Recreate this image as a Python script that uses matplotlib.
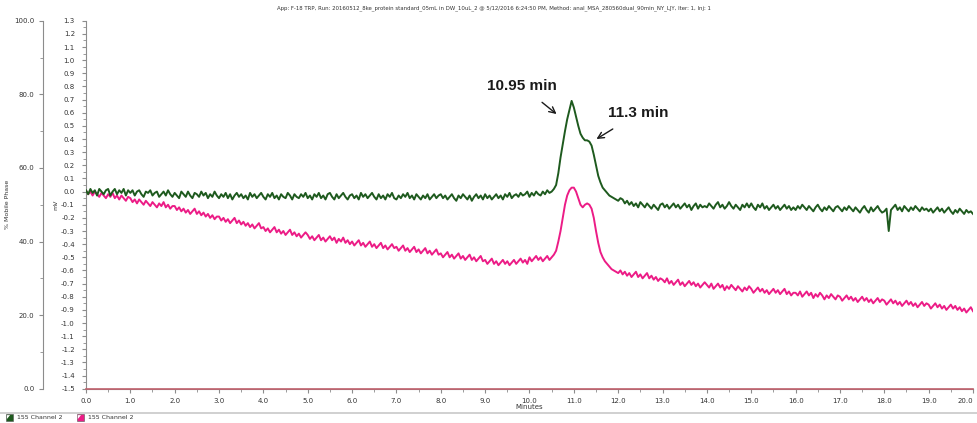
import numpy as np
import matplotlib.pyplot as plt
from matplotlib.ticker import MultipleLocator, FormatStrFormatter
from matplotlib.patches import Polygon, Rectangle
from matplotlib.lines import Line2D

# sampling grid of the traces, minutes (0.00 .. 20.00, step 0.05)
minutes = np.round(np.arange(401) * 0.05, 2)

# dark green trace, mV (one row per minute)
green_mv = [
    0.01, -0.02, 0.02, -0.01, 0.01, -0.03, 0.02, 0.00, -0.02, 0.01, 0.02, -0.03, 0.00, 0.02, -0.02, 0.01, -0.01, 0.02, -0.03, 0.01,
    -0.01, 0.01, -0.03, 0.00, 0.01, -0.02, -0.04, 0.00, -0.01, 0.01, -0.03, -0.01, 0.00, -0.04, -0.02, 0.00, -0.03, 0.01, -0.02, -0.04,
    -0.01, -0.03, -0.05, 0.00, -0.02, -0.04, 0.00, -0.03, -0.05, -0.01, -0.02, -0.04, 0.00, -0.03, -0.01, -0.05, -0.02, -0.04, 0.00, -0.03,
    -0.05, -0.02, -0.04, -0.01, -0.05, -0.02, -0.06, -0.03, -0.01, -0.04, -0.02, -0.05, -0.03, -0.06, -0.01, -0.04, -0.02, -0.05, -0.03, -0.01,
    -0.04, -0.06, -0.02, -0.04, -0.01, -0.05, -0.03, -0.06, -0.02, -0.04, -0.05, -0.01, -0.03, -0.06, -0.02, -0.04, -0.05, -0.02, -0.04, -0.01,
    -0.05, -0.03, -0.06, -0.02, -0.04, -0.01, -0.05, -0.03, -0.06, -0.02, -0.01, -0.04, -0.06, -0.02, -0.05, -0.03, -0.01, -0.04, -0.06, -0.03,
    -0.02, -0.05, -0.03, -0.06, -0.01, -0.04, -0.02, -0.05, -0.03, -0.01, -0.04, -0.06, -0.02, -0.05, -0.03, -0.06, -0.02, -0.04, -0.01, -0.05,
    -0.06, -0.03, -0.05, -0.02, -0.04, -0.01, -0.05, -0.03, -0.06, -0.02, -0.04, -0.06, -0.03, -0.05, -0.02, -0.06, -0.04, -0.02, -0.05, -0.03,
    -0.02, -0.05, -0.03, -0.06, -0.04, -0.02, -0.05, -0.07, -0.03, -0.05, -0.02, -0.04, -0.06, -0.03, -0.07, -0.04, -0.02, -0.05, -0.03, -0.06,
    -0.02, -0.05, -0.03, -0.06, -0.04, -0.02, -0.05, -0.03, -0.06, -0.02, -0.04, -0.01, -0.05, -0.03, -0.02, -0.04, -0.01, -0.03, -0.02, 0.00,
    -0.04, -0.01, -0.03, 0.00, -0.02, -0.03, 0.00, -0.02, 0.01, -0.01, 0.00, 0.02, 0.05, 0.14, 0.26, 0.36, 0.46, 0.55, 0.62, 0.69,
    0.64, 0.57, 0.50, 0.44, 0.41, 0.39, 0.39, 0.38, 0.35, 0.28, 0.20, 0.12, 0.07, 0.03, 0.01, -0.01, -0.03, -0.04, -0.05, -0.06,
    -0.07, -0.05, -0.06, -0.09, -0.07, -0.10, -0.08, -0.11, -0.09, -0.12, -0.08, -0.10, -0.12, -0.09, -0.11, -0.13, -0.10, -0.12, -0.14, -0.10,
    -0.09, -0.12, -0.10, -0.13, -0.11, -0.09, -0.12, -0.10, -0.13, -0.11, -0.09, -0.12, -0.10, -0.14, -0.11, -0.09, -0.13, -0.10, -0.12, -0.11,
    -0.12, -0.09, -0.11, -0.13, -0.10, -0.08, -0.12, -0.10, -0.13, -0.11, -0.08, -0.11, -0.13, -0.10, -0.12, -0.14, -0.10, -0.12, -0.09, -0.12,
    -0.09, -0.12, -0.14, -0.10, -0.12, -0.09, -0.13, -0.11, -0.14, -0.12, -0.10, -0.13, -0.11, -0.14, -0.12, -0.10, -0.13, -0.11, -0.14, -0.12,
    -0.14, -0.11, -0.13, -0.10, -0.12, -0.14, -0.11, -0.13, -0.15, -0.12, -0.10, -0.13, -0.15, -0.12, -0.14, -0.11, -0.13, -0.15, -0.12, -0.11,
    -0.13, -0.15, -0.12, -0.14, -0.11, -0.13, -0.15, -0.12, -0.14, -0.16, -0.13, -0.11, -0.14, -0.16, -0.12, -0.15, -0.13, -0.11, -0.14, -0.16,
    -0.15, -0.13, -0.30, -0.14, -0.12, -0.10, -0.14, -0.12, -0.15, -0.11, -0.13, -0.15, -0.12, -0.14, -0.11, -0.13, -0.15, -0.12, -0.14, -0.13,
    -0.15, -0.13, -0.16, -0.14, -0.12, -0.15, -0.13, -0.16, -0.14, -0.12, -0.15, -0.17, -0.14, -0.16, -0.13, -0.15, -0.17, -0.14, -0.16, -0.15,
    -0.17,
]

# magenta trace, mV (one row per minute)
pink_mv = [
    0.01, -0.02, 0.00, -0.03, 0.00, -0.02, -0.04, -0.01, -0.03, -0.05, -0.02, -0.04, -0.01, -0.05, -0.03, -0.06, -0.03, -0.05, -0.07, -0.04,
    -0.05, -0.08, -0.06, -0.09, -0.06, -0.08, -0.10, -0.07, -0.09, -0.11, -0.08, -0.10, -0.12, -0.09, -0.11, -0.08, -0.12, -0.10, -0.13, -0.11,
    -0.11, -0.14, -0.12, -0.15, -0.13, -0.16, -0.14, -0.17, -0.15, -0.13, -0.17, -0.15, -0.18, -0.16, -0.19, -0.17, -0.20, -0.18, -0.21, -0.19,
    -0.19, -0.22, -0.20, -0.23, -0.21, -0.24, -0.22, -0.20, -0.24, -0.22, -0.25, -0.23, -0.26, -0.24, -0.27, -0.25, -0.28, -0.26, -0.24, -0.28,
    -0.27, -0.30, -0.28, -0.31, -0.29, -0.27, -0.31, -0.29, -0.32, -0.30, -0.33, -0.31, -0.29, -0.33, -0.31, -0.34, -0.32, -0.35, -0.33, -0.31,
    -0.33, -0.36, -0.34, -0.37, -0.35, -0.33, -0.37, -0.35, -0.38, -0.36, -0.34, -0.37, -0.35, -0.39, -0.36, -0.38, -0.35, -0.39, -0.37, -0.40,
    -0.38, -0.41, -0.39, -0.37, -0.41, -0.39, -0.42, -0.40, -0.38, -0.42, -0.40, -0.43, -0.41, -0.39, -0.43, -0.41, -0.44, -0.42, -0.40, -0.43,
    -0.42, -0.45, -0.43, -0.41, -0.45, -0.43, -0.46, -0.44, -0.42, -0.46, -0.44, -0.47, -0.45, -0.43, -0.47, -0.45, -0.48, -0.46, -0.44, -0.48,
    -0.47, -0.50, -0.48, -0.46, -0.50, -0.48, -0.51, -0.49, -0.47, -0.51, -0.49, -0.52, -0.50, -0.48, -0.52, -0.50, -0.53, -0.51, -0.49, -0.53,
    -0.52, -0.55, -0.53, -0.51, -0.55, -0.53, -0.56, -0.54, -0.52, -0.55, -0.53, -0.56, -0.54, -0.52, -0.55, -0.53, -0.51, -0.54, -0.52, -0.55,
    -0.50, -0.53, -0.51, -0.49, -0.52, -0.50, -0.53, -0.51, -0.49, -0.52, -0.50, -0.48, -0.45, -0.38, -0.30, -0.20, -0.10, -0.03, 0.01, 0.03,
    0.03, 0.00, -0.05, -0.10, -0.12, -0.10, -0.09, -0.10, -0.13, -0.20, -0.30, -0.39, -0.46, -0.50, -0.53, -0.55, -0.57, -0.59, -0.60, -0.61,
    -0.62, -0.60, -0.63, -0.61, -0.64, -0.62, -0.65, -0.63, -0.61, -0.65, -0.63, -0.66, -0.64, -0.62, -0.66, -0.64, -0.67, -0.65, -0.68, -0.66,
    -0.67, -0.69, -0.66, -0.70, -0.68, -0.71, -0.69, -0.67, -0.71, -0.69, -0.72, -0.70, -0.68, -0.71, -0.69, -0.72, -0.70, -0.73, -0.71, -0.69,
    -0.71, -0.73, -0.70, -0.74, -0.72, -0.70, -0.73, -0.71, -0.75, -0.72, -0.74, -0.71, -0.73, -0.75, -0.72, -0.74, -0.76, -0.73, -0.75, -0.72,
    -0.74, -0.77, -0.75, -0.73, -0.76, -0.74, -0.77, -0.75, -0.78, -0.76, -0.74, -0.77, -0.75, -0.78, -0.76, -0.74, -0.78, -0.76, -0.79, -0.77,
    -0.77, -0.79, -0.76, -0.80, -0.78, -0.76, -0.79, -0.77, -0.81, -0.78, -0.80, -0.77, -0.79, -0.82, -0.79, -0.81, -0.78, -0.80, -0.82, -0.79,
    -0.80, -0.83, -0.81, -0.79, -0.82, -0.80, -0.83, -0.81, -0.84, -0.82, -0.80, -0.83, -0.81, -0.84, -0.82, -0.85, -0.83, -0.81, -0.84, -0.82,
    -0.83, -0.86, -0.84, -0.82, -0.85, -0.83, -0.86, -0.84, -0.87, -0.85, -0.83, -0.86, -0.84, -0.87, -0.85, -0.88, -0.86, -0.84, -0.87, -0.85,
    -0.86, -0.89, -0.87, -0.85, -0.88, -0.86, -0.89, -0.87, -0.90, -0.88, -0.86, -0.89, -0.87, -0.90, -0.88, -0.91, -0.89, -0.92, -0.90, -0.88,
    -0.91,
]

# mobile phase trace, %
mobile_time = [0.0, 20.0]
mobile_pct = [0.0, 0.0]

x_ticks = [float(v) for v in range(21)]
x_tick_labels = [f'{v:.1f}' for v in x_ticks]
peak_labels = ["10.95 min", "11.3 min"]
legend_labels = ["155 Channel 2", "155 Channel 2"]
title = ("App: F-18 TRP, Run: 20160512_8ke_protein standard_05mL in DW_10uL_2 "
         "@ 5/12/2016 6:24:50 PM, Method: anal_MSA_280560dual_90min_NY_LJY, Iter: 1, Inj: 1")

GREEN = '#1e5a1e'
PINK = '#ec1c86'
AXIS = '#8c8c8c'
TXT = '#333333'

fig = plt.figure(figsize=(9.78, 4.23), dpi=100)
ax = fig.add_axes([0.0879, 0.081, 0.907, 0.870])

ax.plot(minutes, green_mv, color=GREEN, lw=1.4, zorder=3)
ax.plot(minutes, pink_mv, color=PINK, lw=1.4, zorder=2)

ax.set_xlim(0, 20)
ax.set_ylim(-1.5, 1.3)
ax.set_xticks(x_ticks)
ax.set_xticklabels(x_tick_labels)
ax.xaxis.set_minor_locator(MultipleLocator(0.5))
ax.yaxis.set_major_locator(MultipleLocator(0.1))
ax.yaxis.set_minor_locator(MultipleLocator(0.05))
ax.yaxis.set_major_formatter(FormatStrFormatter('%.1f'))
for s in ['top', 'right']:
    ax.spines[s].set_visible(False)
for s in ['left', 'bottom']:
    ax.spines[s].set_color(AXIS)
ax.tick_params(which='major', length=3, width=0.8, color=AXIS, labelsize=5, labelcolor=TXT)
ax.tick_params(axis='x', pad=4)
ax.tick_params(axis='y', pad=5)
ax.tick_params(which='minor', length=2, width=0.6, color=AXIS)
ax.get_xticklabels()[-1].set_horizontalalignment('right')
ax.set_xlabel('Minutes', fontsize=5, color=TXT, labelpad=0)
ax.set_ylabel('mV', fontsize=4.5, color=TXT, labelpad=2)

# mobile phase axis on the far left
ax_mp = ax.twinx()
ax_mp.set_ylim(0, 100)
ax_mp.yaxis.set_ticks_position('left')
ax_mp.yaxis.set_label_position('left')
ax_mp.spines['left'].set_position(('axes', -0.0485))
ax_mp.spines['left'].set_visible(True)
ax_mp.spines['left'].set_color(AXIS)
for s in ['top', 'right', 'bottom']:
    ax_mp.spines[s].set_visible(False)
ax_mp.yaxis.set_major_locator(MultipleLocator(20))
ax_mp.yaxis.set_minor_locator(MultipleLocator(10))
ax_mp.yaxis.set_major_formatter(FormatStrFormatter('%.1f'))
ax_mp.tick_params(which='major', length=3, width=0.8, color=AXIS, labelsize=5, labelcolor=TXT, pad=3)
ax_mp.tick_params(which='minor', length=2, width=0.6, color=AXIS)
ax_mp.set_ylabel('% Mobile Phase', fontsize=4.5, color=TXT, labelpad=3)
ax_mp.plot(mobile_time, mobile_pct, color='#c0606c', lw=1.2, clip_on=False, zorder=4)

# peak annotations
ax.annotate(peak_labels[0], xy=(10.61, 0.59), xytext=(9.84, 0.80),
            fontsize=11, fontweight='bold', family='Liberation Sans', color='#1a1a1a',
            ha='center', va='center',
            arrowprops=dict(arrowstyle='->', color='#1a1a1a', lw=1.0,
                            shrinkA=7, shrinkB=0))
ax.annotate(peak_labels[1], xy=(11.51, 0.40), xytext=(12.45, 0.595),
            fontsize=11, fontweight='bold', family='Liberation Sans', color='#1a1a1a',
            ha='center', va='center',
            arrowprops=dict(arrowstyle='->', color='#1a1a1a', lw=1.0,
                            shrinkA=8, shrinkB=0))

fig.text(0.505, 0.981, title, fontsize=3.85, color=TXT, ha='center', va='center')

# legend strip at the bottom
fig.add_artist(Line2D([0.0, 1.0], [0.024, 0.024], color='#c8c8c8', lw=1.2))
for i, (c, lab) in enumerate(zip([GREEN, PINK], legend_labels)):
    x0 = 0.006 + i * 0.0725
    y0 = 0.0045
    w, h = 0.0072, 0.0166
    fig.add_artist(Rectangle((x0, y0), w, h, facecolor=c, edgecolor='#555555', lw=0.4))
    fig.add_artist(Polygon([(x0 + w * 0.15, y0 + h * 0.85), (x0 + w * 0.6, y0 + h * 0.85),
                            (x0 + w * 0.15, y0 + h * 0.3)], closed=True,
                           facecolor='white', edgecolor='none'))
    fig.text(x0 + 0.011, y0 + h / 2, lab, fontsize=4.5, color=TXT, va='center', ha='left')

fig.savefig('out.png', dpi=100)
